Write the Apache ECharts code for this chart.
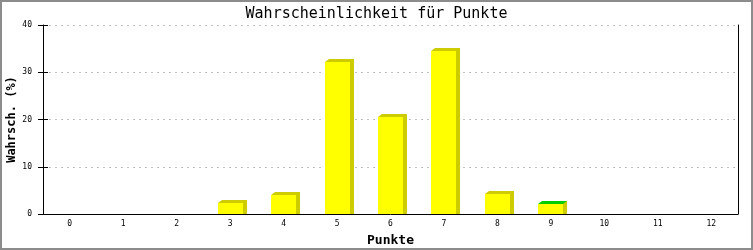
<!DOCTYPE html>
<html><head><meta charset="utf-8">
<script src="https://cdn.jsdelivr.net/npm/echarts@6/dist/echarts.min.js"></script>
<style>html,body{margin:0;padding:0;background:#fff}#c{width:753px;height:250px}</style>
</head><body><div id="c"></div>
<script>
const categories = ['0','1','2','3','4','5','6','7','8','9','10','11','12'];
const values = [0, 0, 0, 2.4, 4.0, 32.2, 20.6, 34.5, 4.2, 2.1, 0, 0, 0];
const yTicks = [0, 10, 20, 30, 40];
const highlightCategory = '9';

const chart = echarts.init(document.getElementById('c'), null, {renderer: 'canvas'});
const mono = 'DejaVu Sans Mono';
const seriesData = categories.map((c, i) => [i, values[i]]);

function renderItem(params, api) {
  const idx = api.value(0);
  const v = api.value(1);
  if (!(v > 0)) return null;
  const p = api.coord([idx, v]);
  const b = api.coord([idx, 0]);
  const w = Math.round(api.size([1, 0])[0] * 0.47);
  const left = Math.round(p[0] - w / 2);
  const top = Math.round(p[1]);
  const bot = Math.round(b[1]);
  const dx = 4, dy = 3;
  const topColor = categories[idx] === highlightCategory ? '#00cc00' : '#cccc00';
  return {
    type: 'group',
    children: [
      {type: 'rect', shape: {x: left + w, y: top - dy, width: dx, height: bot - top + dy}, style: {fill: '#cccc00'}},
      {type: 'polygon', shape: {points: [[left, top], [left + dx, top - dy], [left + w + dx, top - dy], [left + w, top]]}, style: {fill: topColor}},
      {type: 'rect', shape: {x: left, y: top, width: w, height: bot - top}, style: {fill: '#ffff00'}}
    ]
  };
}

chart.setOption({
  animation: false,
  backgroundColor: '#fff',
  title: {
    text: 'Wahrscheinlichkeit für Punkte', left: 'center', top: 2,
    textStyle: {fontFamily: mono, fontSize: 15, fontWeight: 'normal', color: '#000'}
  },
  graphic: [{type: 'rect', z: 100, shape: {x: 1, y: 1, width: 751, height: 248}, style: {fill: 'none', stroke: '#8c8c8c', lineWidth: 2}}],
  grid: {left: 43, right: 15, top: 25, bottom: 36, containLabel: false, outerBoundsMode: 'none'},
  xAxis: {
    type: 'category', data: categories, boundaryGap: true,
    name: 'Punkte', nameLocation: 'middle', nameGap: 20, nameMoveOverlap: false,
    nameTextStyle: {fontFamily: mono, fontSize: 13, fontWeight: 'bold', color: '#000'},
    axisLine: {lineStyle: {color: '#000', width: 1}},
    axisTick: {show: false},
    axisLabel: {fontFamily: mono, fontSize: 8, color: '#000', margin: 6}
  },
  yAxis: [
    {
      type: 'value', min: yTicks[0], max: yTicks[yTicks.length - 1], interval: 10,
      name: 'Wahrsch. (%)', nameLocation: 'middle', nameGap: 25, nameMoveOverlap: false,
      nameTextStyle: {fontFamily: mono, fontSize: 12, fontWeight: 'bold', color: '#000'},
      axisLine: {show: true, lineStyle: {color: '#000', width: 1}},
      axisTick: {show: true, length: 5, lineStyle: {color: '#000'}},
      axisLabel: {fontFamily: mono, fontSize: 8, color: '#000', margin: 11},
      splitLine: {show: true, lineStyle: {color: '#c0c0c0', type: [2, 4], width: 1}}
    },
    {
      type: 'value', min: yTicks[0], max: yTicks[yTicks.length - 1], interval: 10, position: 'left',
      axisLine: {show: false}, axisLabel: {show: false}, splitLine: {show: false},
      axisTick: {show: true, inside: true, length: 5, lineStyle: {color: '#000'}}
    },
    {
      type: 'value', min: yTicks[0], max: yTicks[yTicks.length - 1], interval: 10, position: 'right',
      axisLine: {show: true, lineStyle: {color: '#000', width: 1}}, axisLabel: {show: false},
      splitLine: {show: false}, axisTick: {show: false}
    }
  ],
  series: [{
    type: 'custom', renderItem: renderItem, data: seriesData,
    encode: {x: 0, y: 1}, clip: false, z: 3
  }]
});
</script></body></html>
